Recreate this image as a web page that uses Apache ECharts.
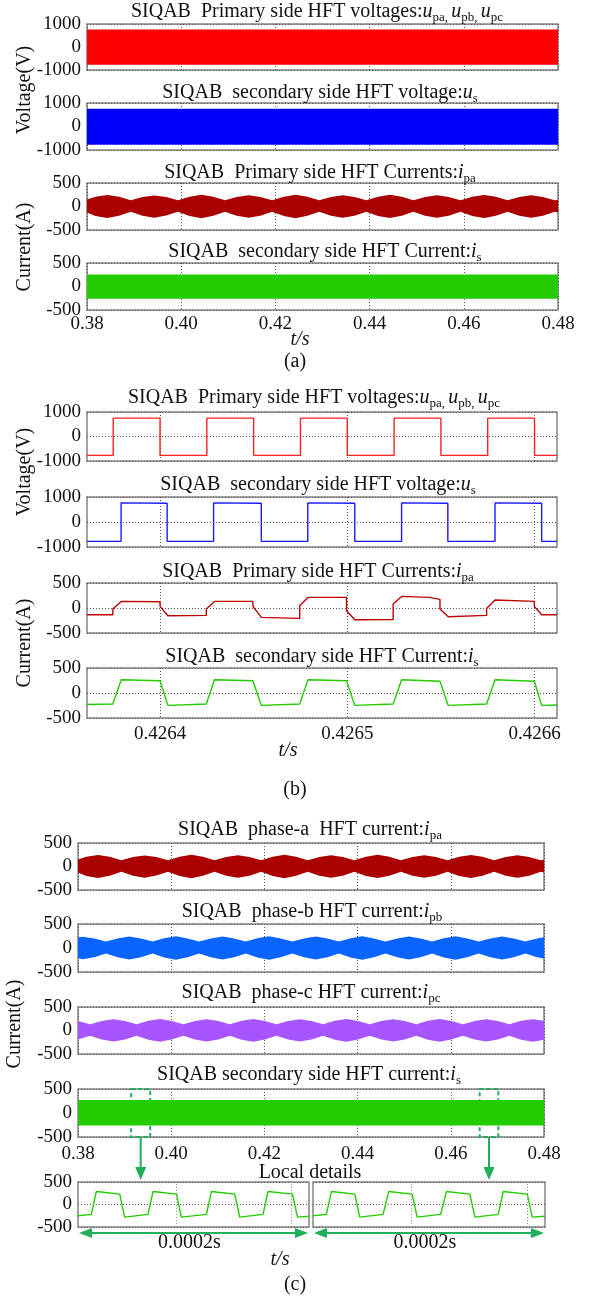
<!DOCTYPE html>
<html>
<head>
<meta charset="utf-8">
<script src="https://cdn.jsdelivr.net/npm/echarts@6/dist/echarts.min.js"></script>
<style>
html, body { margin: 0; padding: 0; background: #fff; }
#chart { width: 590px; height: 1298px; }
</style>
</head>
<body>
<div id="chart"></div>
<script>
// ---------- data ----------
// (a) and (c): 0.38 s .. 0.48 s; dense switching waves shown as envelopes [t, upper, lower]
const upEnv = [[0.38, 765, -770], [0.48, 765, -770]];
const usEnv = [[0.38, 760, -772], [0.48, 760, -772]];
const isEnvA = [[0.38, 255, -262], [0.48, 255, -262]];
const isEnvC = [[0.38, 270, -262], [0.48, 270, -262]];

const ipaEnv = [
  [0.3800, 150, -130], [0.3818, 205, -200], [0.3843, 245, -245], [0.3868, 205, -195],
  [0.3893, 135, -112], [0.3918, 200, -195], [0.3943, 235, -238], [0.3968, 200, -192],
  [0.3993, 135, -110], [0.4018, 210, -200], [0.4043, 252, -250], [0.4068, 205, -198],
  [0.4093, 135, -112], [0.4118, 200, -195], [0.4143, 240, -240], [0.4168, 200, -195],
  [0.4193, 133, -110], [0.4218, 205, -200], [0.4243, 250, -248], [0.4268, 205, -198],
  [0.4293, 135, -112], [0.4318, 200, -195], [0.4343, 238, -240], [0.4368, 200, -195],
  [0.4393, 133, -110], [0.4418, 207, -200], [0.4443, 248, -246], [0.4468, 205, -198],
  [0.4493, 135, -112], [0.4518, 200, -195], [0.4543, 240, -240], [0.4568, 200, -195],
  [0.4593, 133, -110], [0.4618, 205, -200], [0.4643, 246, -246], [0.4668, 205, -198],
  [0.4693, 135, -112], [0.4718, 200, -195], [0.4743, 242, -242], [0.4768, 200, -195],
  [0.4793, 133, -110], [0.4800, 145, -125]
];
const ipbEnv = [
  [0.3800, 220, -215], [0.3810, 235, -235], [0.3835, 200, -195], [0.3860, 135, -115],
  [0.3885, 200, -195], [0.3910, 240, -240], [0.3935, 200, -195], [0.3960, 135, -115],
  [0.3985, 205, -198], [0.4010, 245, -244], [0.4035, 200, -195], [0.4060, 135, -115],
  [0.4085, 200, -195], [0.4110, 238, -238], [0.4135, 200, -195], [0.4160, 135, -115],
  [0.4185, 205, -198], [0.4210, 244, -244], [0.4235, 200, -195], [0.4260, 135, -115],
  [0.4285, 200, -195], [0.4310, 240, -240], [0.4335, 200, -195], [0.4360, 135, -115],
  [0.4385, 205, -198], [0.4410, 244, -244], [0.4435, 200, -195], [0.4460, 135, -115],
  [0.4485, 200, -195], [0.4510, 240, -240], [0.4535, 200, -195], [0.4560, 135, -115],
  [0.4585, 205, -198], [0.4610, 244, -244], [0.4635, 200, -195], [0.4660, 135, -115],
  [0.4685, 200, -195], [0.4710, 240, -240], [0.4735, 200, -195], [0.4760, 135, -115],
  [0.4785, 200, -195], [0.4800, 222, -218]
];
const ipcEnv = [
  [0.3800, 200, -190], [0.3826, 135, -112], [0.3851, 200, -192], [0.3876, 240, -235],
  [0.3901, 200, -192], [0.3926, 135, -112], [0.3951, 205, -195], [0.3976, 244, -240],
  [0.4001, 200, -192], [0.4026, 135, -112], [0.4051, 200, -192], [0.4076, 238, -235],
  [0.4101, 200, -192], [0.4126, 135, -112], [0.4151, 205, -195], [0.4176, 244, -240],
  [0.4201, 200, -192], [0.4226, 135, -112], [0.4251, 200, -192], [0.4276, 240, -235],
  [0.4301, 200, -192], [0.4326, 135, -112], [0.4351, 205, -195], [0.4376, 244, -240],
  [0.4401, 200, -192], [0.4426, 135, -112], [0.4451, 200, -192], [0.4476, 240, -235],
  [0.4501, 200, -192], [0.4526, 135, -112], [0.4551, 205, -195], [0.4576, 244, -240],
  [0.4601, 200, -192], [0.4626, 135, -112], [0.4651, 200, -192], [0.4676, 240, -235],
  [0.4701, 200, -192], [0.4726, 135, -112], [0.4751, 205, -195], [0.4776, 242, -238],
  [0.4800, 205, -196]
];

// (b): zoomed window around 0.4265 s, [t, value]
const upB = [
  [0.426361, -770], [0.426375, -770], [0.426375, 750], [0.4264, 750], [0.4264, -770],
  [0.426425, -770], [0.426425, 750], [0.42645, 750], [0.42645, -770], [0.426475, -770],
  [0.426475, 750], [0.4265, 750], [0.4265, -770], [0.426525, -770], [0.426525, 750],
  [0.42655, 750], [0.42655, -770], [0.426575, -770], [0.426575, 750], [0.4266, 750],
  [0.4266, -770], [0.426612, -770]
];
const usB = [
  [0.426361, -775], [0.4263792, -772], [0.4263792, 765], [0.4264038, 750], [0.4264038, -775],
  [0.4264286, -768], [0.4264286, 765], [0.4264541, 750], [0.4264541, -775], [0.4264789, -768],
  [0.4264789, 765], [0.426504, 750], [0.426504, -775], [0.426529, -768], [0.426529, 765],
  [0.4265537, 750], [0.4265537, -775], [0.4265789, -768], [0.4265789, 765], [0.4266038, 750],
  [0.4266038, -775], [0.426612, -774]
];
const ipaB = [
  [0.426361, -134], [0.4263748, -134], [0.4263748, -20], [0.4263793, 132], [0.4264, 126],
  [0.4264, 32], [0.4264042, -154], [0.4264247, -148], [0.4264247, -20], [0.4264291, 132],
  [0.4264496, 132], [0.4264496, 32], [0.4264541, -188], [0.4264746, -207], [0.4264746, 46],
  [0.426479, 212], [0.4264996, 212], [0.4264996, -54], [0.426504, -234], [0.4265245, -230],
  [0.4265245, 80], [0.426529, 232], [0.4265441, 212], [0.4265445, 172], [0.4265495, 172],
  [0.4265495, -20], [0.4265539, -174], [0.4265744, -148], [0.4265744, -8], [0.4265789, 160],
  [0.4265999, 132], [0.4265999, 32], [0.4266038, -134], [0.426612, -134]
];
const isB = [
  [0.426361, -230], [0.4263748, -220], [0.4263793, 266], [0.4264, 246], [0.4264042, -248],
  [0.4264247, -220], [0.4264291, 266], [0.4264496, 246], [0.4264541, -248], [0.4264746, -220],
  [0.426479, 266], [0.4264996, 246], [0.426504, -248], [0.4265245, -220], [0.426529, 266],
  [0.4265495, 236], [0.4265539, -248], [0.4265744, -220], [0.4265789, 266], [0.4265999, 236],
  [0.4266038, -248], [0.426612, -240]
];
const bTicks = [0.4264, 0.4265, 0.4266];

// (c) local details, microseconds inside a 0.0002 s window
const local1 = [
  [0, -250], [11.6, -220], [15.9, 290], [36.1, 230], [40.4, -280], [60.6, -220], [65, 290],
  [85.2, 230], [89.5, -280], [111.2, -220], [115.5, 290], [135.7, 230], [140, -280],
  [160.2, -220], [164.5, 290], [185.7, 230], [190, -280], [200, -262]
];
const local2 = [
  [0, -250], [11.5, -220], [15.9, 290], [36, 230], [40.3, -280], [60.4, -220], [65.3, 290],
  [85.4, 230], [89.8, -280], [110, -220], [115.1, 290], [135.2, 230], [139.6, -280],
  [159.7, -220], [164, 290], [184.7, 230], [189, -280], [200, -262]
];
const localGrid = [85, 185];
const zoomBoxes = [[0.3914, 0.3955], [0.4662, 0.4702]];

// ---------- chart ----------
const SERIF = '"Liberation Serif", "DejaVu Serif", serif';
const BORDER = '#828282';
const DOT = { color: '#555', width: 1, type: [1, 2] };
const GREEN = '#22cc00';
const ARROW = '#1fae5a';

const chart = echarts.init(document.getElementById('chart'));

const gridPos = [
  { left: 87, right: 32, top: 24, height: 46 },
  { left: 87, right: 32, top: 103, height: 47 },
  { left: 87, right: 32, top: 183, height: 47 },
  { left: 87, right: 32, top: 263, height: 47 },
  { left: 87, right: 33, top: 412, height: 49 },
  { left: 87, right: 33, top: 497, height: 50 },
  { left: 87, right: 33, top: 583, height: 50 },
  { left: 87, right: 33, top: 668, height: 50 },
  { left: 78, right: 46, top: 843, height: 47 },
  { left: 78, right: 46, top: 924, height: 48 },
  { left: 78, right: 46, top: 1007, height: 47 },
  { left: 78, right: 46, top: 1089, height: 48 },
  { left: 78, width: 231, top: 1182, height: 45 },
  { left: 313, width: 232, top: 1182, height: 45 }
];
const grid = gridPos.map(g => Object.assign({ show: true, borderColor: BORDER, borderWidth: 1.5, backgroundColor: 'transparent' }, g));

const tickLabel = { fontFamily: SERIF, fontSize: 19, color: '#111', fontWeight: 'normal' };

function longX(gi, labels, ticks, margin) {
  return {
    type: 'value', gridIndex: gi, min: 0.38, max: 0.48, interval: 0.02,
    axisLine: { show: false },
    axisTick: { show: ticks, length: 4, lineStyle: { color: BORDER, width: 1.2 } },
    axisLabel: Object.assign({ show: labels, margin: margin, formatter: v => v.toFixed(2) }, tickLabel),
    splitLine: { show: true, lineStyle: DOT }
  };
}
function bX(gi, labels) {
  return {
    type: 'value', gridIndex: gi, min: 0.426361, max: 0.426612,
    axisLine: { show: false },
    axisTick: { show: false, customValues: bTicks },
    axisLabel: Object.assign({ show: labels, margin: 7, customValues: bTicks, formatter: v => v.toFixed(4) }, tickLabel),
    splitLine: { show: true, lineStyle: DOT }
  };
}
function localX(gi) {
  return {
    type: 'value', gridIndex: gi, min: 0, max: 200,
    axisLine: { show: false }, axisTick: { show: false }, axisLabel: { show: false }, splitLine: { show: false }
  };
}
function yAx(gi, lim, showLabel) {
  return {
    type: 'value', gridIndex: gi, min: -lim, max: lim, interval: lim,
    axisLine: { show: false }, axisTick: { show: false },
    axisLabel: Object.assign({ show: showLabel !== false, margin: 6, formatter: v => String(v) }, tickLabel),
    splitLine: { show: true, lineStyle: DOT }
  };
}

const xAxis = [
  longX(0, false, false), longX(1, false, false), longX(2, false, false), longX(3, true, false, 5),
  bX(4, false), bX(5, false), bX(6, false), bX(7, true),
  longX(8, false, false), longX(9, false, false), longX(10, false, false), longX(11, true, true, 8),
  localX(12), localX(13)
];
const yAxis = [
  yAx(0, 1000), yAx(1, 1000), yAx(2, 500), yAx(3, 500),
  yAx(4, 1000), yAx(5, 1000), yAx(6, 500), yAx(7, 500),
  yAx(8, 500), yAx(9, 500), yAx(10, 500), yAx(11, 500),
  yAx(12, 500), yAx(13, 500, false)
];

function band(env, gi, color) {
  return {
    type: 'custom', xAxisIndex: gi, yAxisIndex: gi, clip: true, silent: true, z: 3,
    data: env,
    encode: { x: 0, y: [1, 2] },
    renderItem: function (params, api) {
      if (params.dataIndex !== 0) return;
      const top = env.map(p => api.coord([p[0], p[1]]));
      const bot = env.map(p => api.coord([p[0], p[2]])).reverse();
      return { type: 'polygon', shape: { points: top.concat(bot) }, style: { fill: color } };
    }
  };
}
function wave(data, gi, color, extra) {
  return Object.assign({
    type: 'line', xAxisIndex: gi, yAxisIndex: gi, data: data, showSymbol: false, silent: true,
    lineStyle: { color: color, width: 1.4 }, z: 3, animation: false
  }, extra || {});
}
const localMark = {
  markLine: {
    silent: true, symbol: 'none', label: { show: false },
    lineStyle: { color: '#999', width: 1, type: [1, 2] },
    data: localGrid.map(v => ({ xAxis: v }))
  }
};

const series = [
  band(upEnv, 0, '#ff0000'),
  band(usEnv, 1, '#0000ff'),
  band(ipaEnv, 2, '#aa0000'),
  band(isEnvA, 3, GREEN),
  wave(upB, 4, '#ff2020'),
  wave(usB, 5, '#1a1aff'),
  wave(ipaB, 6, '#c00000'),
  wave(isB, 7, GREEN),
  band(ipaEnv, 8, '#aa0000'),
  band(ipbEnv, 9, '#0a64ff'),
  band(ipcEnv, 10, '#a655ff'),
  band(isEnvC, 11, GREEN),
  wave([], 11, ARROW, {
    markArea: {
      silent: true,
      itemStyle: { color: 'rgba(0,0,0,0)', borderColor: ARROW, borderWidth: 2, borderType: [4, 3] },
      data: zoomBoxes.map(b => [{ coord: [b[0], 500] }, { coord: [b[1], -500] }])
    }
  }),
  wave(local1, 12, GREEN, localMark),
  wave(local2, 13, GREEN, localMark)
];

const rich = {
  n: { fontFamily: SERIF, fontSize: 20, lineHeight: 24, color: '#111', fontWeight: 'normal' },
  i: { fontFamily: SERIF, fontSize: 20, lineHeight: 24, fontStyle: 'italic', color: '#111', fontWeight: 'normal' },
  s: { fontFamily: SERIF, fontSize: 13, lineHeight: 12, verticalAlign: 'bottom', color: '#111', fontWeight: 'normal' }
};
const titleDefs = [
  [317, 12, '{n|SIQAB  Primary side HFT voltages:}{i|u}{s|pa, }{i|u}{s|pb, }{i|u}{s|pc}'],
  [320, 93, '{n|SIQAB  secondary side HFT voltage:}{i|u}{s|s}'],
  [320, 173, '{n|SIQAB  Primary side HFT Currents:}{i|i}{s|pa}'],
  [325, 252, '{n|SIQAB  secondary side HFT Current:}{i|i}{s|s}'],
  [314, 398, '{n|SIQAB  Primary side HFT voltages:}{i|u}{s|pa, }{i|u}{s|pb, }{i|u}{s|pc}'],
  [318, 485, '{n|SIQAB  secondary side HFT voltage:}{i|u}{s|s}'],
  [318, 572, '{n|SIQAB  Primary side HFT Currents:}{i|i}{s|pa}'],
  [322, 657, '{n|SIQAB  secondary side HFT Current:}{i|i}{s|s}'],
  [310, 830, '{n|SIQAB  phase-a  HFT current:}{i|i}{s|pa}'],
  [312, 912, '{n|SIQAB  phase-b HFT current:}{i|i}{s|pb}'],
  [311, 993, '{n|SIQAB  phase-c HFT current:}{i|i}{s|pc}'],
  [309, 1075, '{n|SIQAB secondary side HFT current:}{i|i}{s|s}'],
  [310, 1173, '{n|Local details}']
];
const title = titleDefs.map(d => ({
  left: d[0], top: d[1], textAlign: 'center', textVerticalAlign: 'middle', padding: 0,
  text: d[2], textStyle: { rich: rich, fontWeight: 'normal', fontFamily: SERIF, fontSize: 20 }
}));

chart.setOption({
  animation: false,
  title: title,
  grid: grid,
  xAxis: xAxis,
  yAxis: yAxis,
  series: series
});

// ---------- annotations ----------
function txt(x, y, s, opt) {
  return {
    type: 'text', x: x, y: y, rotation: (opt && opt.rot) || 0, silent: true, z: 10,
    style: {
      text: s, fill: '#111',
      font: ((opt && opt.style) || '') + ' 20px ' + SERIF,
      align: 'center', verticalAlign: 'middle'
    }
  };
}
const px = (gi, v) => chart.convertToPixel({ xAxisIndex: gi, yAxisIndex: gi }, v);
const graphics = [
  txt(25, 90, 'Voltage(V)', { rot: Math.PI / 2 }),
  txt(25, 247, 'Current(A)', { rot: Math.PI / 2 }),
  txt(300, 340, 't/s', { style: 'italic' }),
  txt(295, 362, '(a)'),
  txt(25, 472, 'Voltage(V)', { rot: Math.PI / 2 }),
  txt(25, 643, 'Current(A)', { rot: Math.PI / 2 }),
  txt(288, 751, 't/s', { style: 'italic' }),
  txt(295, 790, '(b)'),
  txt(15, 1024, 'Current(A)', { rot: Math.PI / 2 }),
  txt(280, 1260, 't/s', { style: 'italic' }),
  txt(295, 1285, '(c)')
];
zoomBoxes.forEach(b => {
  const p0 = px(11, [(b[0] + b[1]) / 2, -500]);
  const yEnd = px(12, [0, 500])[1] - 2;
  graphics.push({ type: 'line', silent: true, z: 10, shape: { x1: p0[0], y1: p0[1] + 1, x2: p0[0], y2: yEnd - 8 }, style: { stroke: ARROW, lineWidth: 2 } });
  graphics.push({ type: 'polygon', silent: true, z: 10, shape: { points: [[p0[0] - 5.5, yEnd - 13], [p0[0] + 5.5, yEnd - 13], [p0[0], yEnd]] }, style: { fill: ARROW } });
});
[12, 13].forEach(gi => {
  const L = px(gi, [0, -500]);
  const R = px(gi, [200, -500]);
  const y = L[1] + 6;
  const xl = L[0] + 1, xr = R[0] - 1;
  graphics.push({ type: 'line', silent: true, z: 10, shape: { x1: xl + 8, y1: y, x2: xr - 8, y2: y }, style: { stroke: ARROW, lineWidth: 2 } });
  graphics.push({ type: 'polygon', silent: true, z: 10, shape: { points: [[xl, y], [xl + 13, y - 5], [xl + 13, y + 5]] }, style: { fill: ARROW } });
  graphics.push({ type: 'polygon', silent: true, z: 10, shape: { points: [[xr, y], [xr - 13, y - 5], [xr - 13, y + 5]] }, style: { fill: ARROW } });
  graphics.push(txt((xl + xr) / 2 - 4, y + 10, '0.0002s'));
});
chart.setOption({ graphic: graphics });
</script>
</body>
</html>
